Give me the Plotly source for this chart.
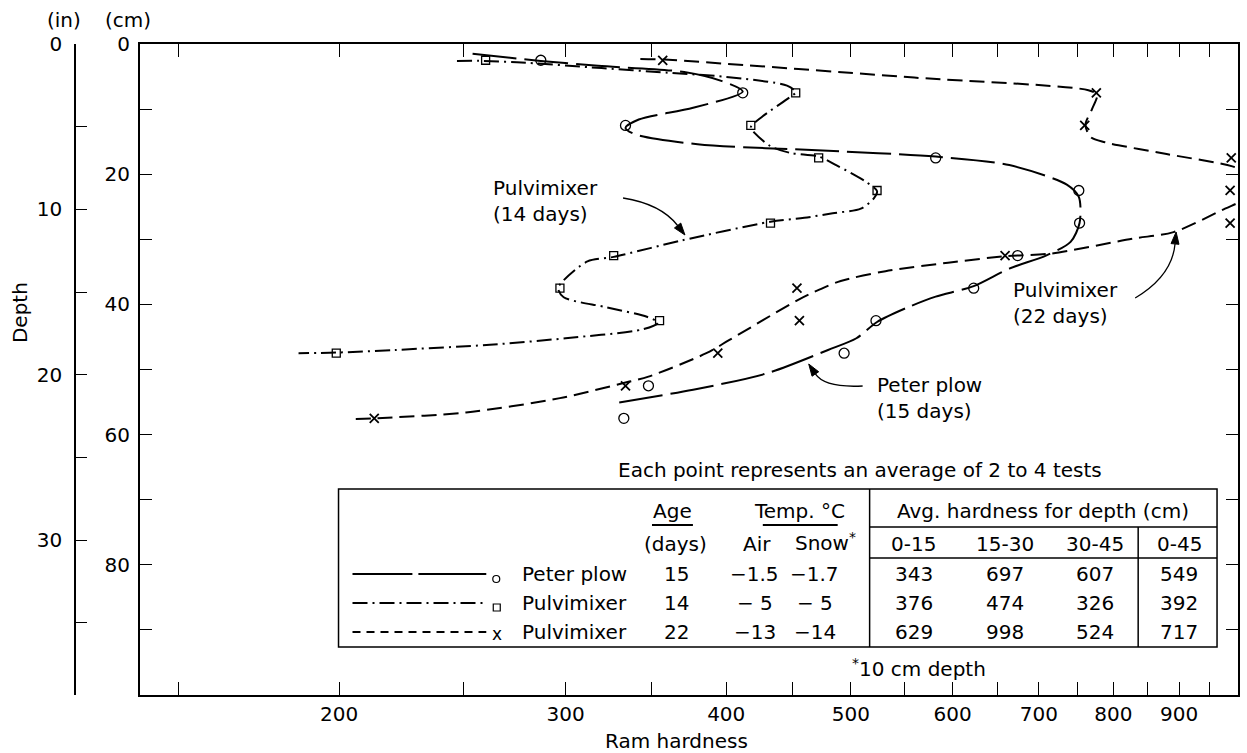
import math
import plotly.graph_objects as go

# ---------------- data ----------------
depth_cm = [2.5, 7.5, 12.5, 17.5, 22.5, 27.5, 32.5, 37.5, 42.5, 47.5, 52.5, 57.5]

peter_plow = [287, 412, 334, 582, 752, 753, 674, 623, 523, 494, 348, 333]
pulvi_14 = [260, 453, 418, 472, 524, 433, 327, 297, 355, 199]
pulvi_22 = [357, 776, 760, 988, 986, 986, 659, 454, 456, 394, 334, 213]

# hand-drawn smooth curves
pp_curve_x = [254, 287, 318, 371, 397, 412, 377, 342, 334, 340, 380, 480, 582, 664, 736, 752,
              753, 741, 709, 664, 623, 582, 556, 524, 505, 480, 430, 377, 327]
pp_curve_y = [1.5, 2.6, 3.35, 4.3, 5.7, 7.3, 9.8, 11.6, 12.9, 13.9, 15.4, 16.4, 17.3, 18.6, 21.6, 23.5,
              27.5, 30.4, 32.5, 34.5, 37.2, 38.8, 40.3, 42.7, 45.2, 47.0, 50.6, 53.1, 55.2]

p14_curve_x = [247, 259, 275, 320, 360, 400, 446, 453, 448, 427, 418, 421, 433, 449, 472, 487, 513, 524,
               521, 509, 484, 460, 433, 369, 327, 312, 299, 296, 299, 322, 347, 354, 345, 300, 262,
               221, 199, 186]
p14_curve_y = [2.6, 2.6, 2.8, 3.7, 4.4, 5.05, 6.4, 7.4, 8.2, 11.1, 12.8, 13.7, 15.7, 16.75, 17.3, 18.6,
               21.1, 22.6, 23.7, 25.3, 26.0, 26.7, 27.3, 30.2, 32.7, 33.4, 36.3, 37.5, 38.9, 40.4,
               41.9, 42.8, 43.8, 45.2, 46.2, 47.0, 47.4, 47.5]

p22_curve_x = [343, 358, 560, 765, 777, 770, 761, 768, 788, 880, 990, 1040, 1050, 1010, 977, 891, 828,
               715, 659, 595, 532, 491, 473, 455, 402, 386, 348, 334, 297, 251, 213, 205]
p22_curve_y = [2.3, 2.4, 5.16, 7.1, 7.8, 10.0, 12.4, 14.3, 15.1, 16.9, 18.8, 20.5, 22.0, 24.0, 25.3,
               28.9, 29.9, 32.2, 32.6, 33.6, 34.9, 36.4, 37.7, 39.3, 45.5, 47.5, 51.1, 52.0, 54.4,
               56.6, 57.5, 57.6]

x_major = [200, 300, 400, 500, 600, 700, 800, 900]
x_minor = [150, 250, 350, 450, 550, 650, 750, 850, 950]
cm_major = [0, 20, 40, 60, 80]
cm_minor = [10, 30, 50, 70, 90]
in_major = [0, 10, 20, 30]
in_minor = [5, 15, 25, 35]

table_rows = ["Peter plow", "Pulvimixer", "Pulvimixer"]
age_days = ["15", "14", "22"]
temp_air = ["\u22121.5", "\u2212 5", "\u221213"]
temp_snow = ["\u22121.7", "\u2212 5", "\u221214"]
depth_cols = ["0-15", "15-30", "30-45", "0-45"]
avg_hard = [["343", "697", "607", "549"],
            ["376", "474", "326", "392"],
            ["629", "998", "524", "717"]]

# ---------------- geometry ----------------
W, H = 1247, 753
ML, MR, MT, MB = 60, 7, 44, 58
PW, PH = W - ML - MR, H - MT - MB
FRAME_L = 140
FONT = "DejaVu Sans"
FS = 20


def pp(px, py):
    return (px - ML) / PW, 1 - (py - MT) / PH


fig = go.Figure()

# curves
fig.add_trace(go.Scatter(x=pp_curve_x, y=pp_curve_y, mode="lines",
                         line=dict(color="black", width=2, dash="44px,8px", shape="spline", smoothing=0.8),
                         hoverinfo="skip", showlegend=False))
fig.add_trace(go.Scatter(x=p14_curve_x, y=p14_curve_y, mode="lines",
                         line=dict(color="black", width=2, dash="15px,5px,2px,5px", shape="spline", smoothing=0.8),
                         hoverinfo="skip", showlegend=False))
fig.add_trace(go.Scatter(x=p22_curve_x, y=p22_curve_y, mode="lines",
                         line=dict(color="black", width=2, dash="15px,7px", shape="spline", smoothing=0.8),
                         hoverinfo="skip", showlegend=False))

# markers
fig.add_trace(go.Scatter(x=peter_plow, y=depth_cm[:len(peter_plow)], mode="markers",
                         marker=dict(symbol="circle-open", size=10, color="black", line=dict(width=1.3)),
                         cliponaxis=False, showlegend=False, name="Peter plow"))
fig.add_trace(go.Scatter(x=pulvi_14, y=depth_cm[:len(pulvi_14)], mode="markers",
                         marker=dict(symbol="square-open", size=8, color="black", line=dict(width=1.3)),
                         cliponaxis=False, showlegend=False, name="Pulvimixer 14"))
fig.add_trace(go.Scatter(x=pulvi_22, y=depth_cm[:len(pulvi_22)], mode="markers",
                         marker=dict(symbol="x-thin", size=9, color="black", line=dict(width=1.8, color="black")),
                         cliponaxis=False, showlegend=False, name="Pulvimixer 22"))

# invisible trace to carry the inch axis
fig.add_trace(go.Scatter(x=[300], y=[0], yaxis="y2", mode="markers", marker=dict(opacity=0),
                         hoverinfo="skip", showlegend=False))

axis_common = dict(showgrid=False, zeroline=False, showline=True, linecolor="black", linewidth=1.6,
                   ticks="inside", tickcolor="black", tickwidth=1.4,
                   tickfont=dict(family=FONT, size=FS, color="black"))

fig.update_layout(
    width=W, height=H, margin=dict(l=ML, r=MR, t=MT, b=MB),
    paper_bgcolor="white", plot_bgcolor="white", showlegend=False,
    font=dict(family=FONT, size=FS, color="black"),
    xaxis=dict(axis_common, type="log", domain=[(FRAME_L - ML) / PW, 1],
               range=[math.log10(140), 3], tickmode="array", tickvals=x_major,
               ticktext=[str(v) for v in x_major], ticklen=13, mirror="allticks",
               minor=dict(tickmode="array", tickvals=x_minor, ticks="inside", ticklen=6,
                          tickcolor="black", tickwidth=1.4, showgrid=False)),
    yaxis=dict(axis_common, range=[100, 0], tickmode="array", tickvals=cm_major,
               ticktext=[str(v) for v in cm_major], ticklen=12, mirror="allticks", anchor="x",
               ticklabelstandoff=4,
               minor=dict(tickmode="array", tickvals=cm_minor, ticks="inside", ticklen=12,
                          tickcolor="black", tickwidth=1.4, showgrid=False)),
    yaxis2=dict(axis_common, overlaying="y", anchor="free", position=(75 - ML) / PW, side="left",
                range=[100 / 2.54, 0], tickmode="array", tickvals=in_major,
                ticktext=[str(v) for v in in_major], ticklen=11, ticklabelstandoff=8,
                minor=dict(tickmode="array", tickvals=in_minor, ticks="inside", ticklen=11,
                           tickcolor="black", tickwidth=1.4, showgrid=False)),
)

ann = []


def txt(s, px, py, size=FS, xanchor="center", **kw):
    x, y = pp(px, py)
    ann.append(dict(text=s, x=x, y=y, xref="paper", yref="paper", showarrow=False,
                    xanchor=xanchor, yanchor="middle", font=dict(family=FONT, size=size, color="black"), **kw))


shapes = []


def seg(x0, y0, x1, y1, width=1.5, dash="solid"):
    a, b = pp(x0, y0)
    c, d = pp(x1, y1)
    shapes.append(dict(type="line", xref="paper", yref="paper", x0=a, y0=b, x1=c, y1=d,
                       line=dict(color="black", width=width, dash=dash)))


def curved_arrow(p0, c, p1, L=12, hw=4):
    # direction of travel at the tip
    ux, uy = p1[0] - c[0], p1[1] - c[1]
    n = math.hypot(ux, uy)
    ux, uy = ux / n, uy / n
    bx, by = p1[0] - ux * L, p1[1] - uy * L
    a0 = pp(*p0)
    ac = pp(*c)
    ab = pp(bx, by)
    shapes.append(dict(type="path", xref="paper", yref="paper",
                       path=f"M {a0[0]},{a0[1]} Q {ac[0]},{ac[1]} {ab[0]},{ab[1]}",
                       line=dict(color="black", width=1.3)))
    nx, ny = -uy, ux
    t = pp(*p1)
    l = pp(bx + nx * hw, by + ny * hw)
    r = pp(bx - nx * hw, by - ny * hw)
    shapes.append(dict(type="path", xref="paper", yref="paper",
                       path=f"M {t[0]},{t[1]} L {l[0]},{l[1]} L {r[0]},{r[1]} Z",
                       fillcolor="black", line=dict(color="black", width=1)))


# axis headers and titles
txt("(in)", 64, 20)
txt("(cm)", 128, 20)
txt("Depth", 20, 313, textangle=-90)
txt("Ram hardness", 678, 741)

# curve labels
txt("Pulvimixer<br>(14 days)", 492, 201, xanchor="left", align="left")
curved_arrow((624, 198), (662, 204), (686, 235))
txt("Pulvimixer<br>(22 days)", 1013, 303, xanchor="left", align="left")
curved_arrow((1137, 298), (1174, 276), (1178, 232))
txt("Peter plow<br>(15 days)", 876, 398, xanchor="left", align="left")
curved_arrow((864, 386), (826, 388), (810, 364))

txt("Each point represents an average of 2 to 4 tests", 861, 470)

# table frame
TL, TR, TT, TB = 339, 1219, 489, 647
DIV, DIV2 = 871, 1140
shapes.append(dict(type="rect", xref="paper", yref="paper",
                   x0=pp(TL, TT)[0], y0=pp(TL, TT)[1], x1=pp(TR, TB)[0], y1=pp(TR, TB)[1],
                   line=dict(color="black", width=1.5)))
seg(DIV, TT, DIV, TB)
seg(DIV, 527, TR, 527)
seg(DIV, 558, TR, 558)
seg(DIV2, 527, DIV2, TB)
seg(653, 525, 694, 525, width=2)
seg(764, 525, 839, 525, width=2)

txt("Age", 674, 511)
txt("Temp. \u00b0C", 801, 511)
txt("Avg. hardness for depth (cm)", 1045, 511)
txt("(days)", 677, 544)
txt("Air", 758, 544)
txt("Snow<sup>*</sup>", 827, 542)
for label, cx in zip(depth_cols, [915, 1007, 1097, 1181]):
    txt(label, cx, 544)

row_y = [574, 603, 632]
for i, ry in enumerate(row_y):
    txt(table_rows[i], 521, ry, xanchor="left")
    txt(age_days[i], 678, ry)
    txt(temp_air[i], 756, ry)
    txt(temp_snow[i], 816, ry)
    for v, cx in zip(avg_hard[i], [915, 1007, 1097, 1181]):
        txt(v, cx, ry)

# legend samples inside table
seg(353, row_y[0], 413, row_y[0], width=2)
seg(419, row_y[0], 487, row_y[0], width=2)
seg(353, row_y[1], 487, row_y[1], width=2, dash="15px,5px,2px,5px")
seg(353, row_y[2], 487, row_y[2], width=2, dash="8px,6px")
cx0, cy0 = pp(493.5, row_y[0] + 1.5)
cx1, cy1 = pp(500.5, row_y[0] + 8.5)
shapes.append(dict(type="circle", xref="paper", yref="paper", x0=cx0, y0=cy0, x1=cx1, y1=cy1,
                   line=dict(color="black", width=1.2)))
sx0, sy0 = pp(494, row_y[1] + 1)
sx1, sy1 = pp(501, row_y[1] + 8)
shapes.append(dict(type="rect", xref="paper", yref="paper", x0=sx0, y0=sy0, x1=sx1, y1=sy1,
                   line=dict(color="black", width=1.2)))
txt("x", 498, row_y[2] + 2, size=17)

txt("<sup>*</sup>10 cm depth", 920, 668)

fig.update_layout(annotations=ann, shapes=shapes)
fig.write_html("out.html")
